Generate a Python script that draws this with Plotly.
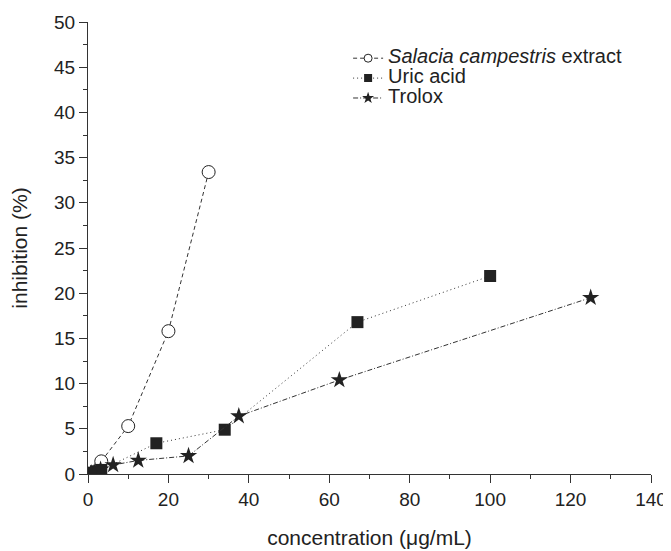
import plotly.graph_objects as go

# Data
salacia_x = [3.3, 10, 20, 30]
salacia_y = [1.4, 5.3, 15.8, 33.4]

uric_x = [0.5, 1, 2, 3.3, 17, 34, 67, 100]
uric_y = [0.05, 0.15, 0.3, 0.45, 3.4, 4.9, 16.8, 21.9]

trolox_x = [0.78, 1.56, 3.125, 6.25, 12.5, 25, 37.5, 62.5, 125]
trolox_y = [0.1, 0.2, 0.5, 1.0, 1.5, 2.0, 6.4, 10.4, 19.5]

names = ["<i>Salacia campestris</i> extract", "Uric acid", "Trolox"]

FONT = "Liberation Sans, Arial, sans-serif"
INK = "#222222"
LINE = "#333333"

series = [
    (salacia_x, salacia_y, dict(color=LINE, width=1, dash="4px,3px"),
     dict(symbol="circle", color="white", line=dict(width=1, color=INK)), 13, 8),
    (uric_x, uric_y, dict(color=LINE, width=1, dash="1px,3px"),
     dict(symbol="square", color=INK, line=dict(width=0)), 12, 8),
    (trolox_x, trolox_y, dict(color=LINE, width=1, dash="5px,2px,1px,2px"),
     dict(symbol="star", color=INK, line=dict(width=0)), 13, 9),
]

fig = go.Figure()
for (xs, ys, ln, mk, size, legsize), nm in zip(series, names):
    fig.add_trace(go.Scatter(
        x=xs, y=ys, mode="lines+markers", name=nm, showlegend=False,
        line=ln, marker=dict(size=size, **mk),
    ))
# legend entries (smaller symbols, as in the reference legend)
for (xs, ys, ln, mk, size, legsize), nm in zip(series, names):
    fig.add_trace(go.Scatter(
        x=[None], y=[None], mode="lines+markers",
        name='<span style="font-size:20px">' + nm + '</span>', showlegend=True,
        line=ln, marker=dict(size=legsize, **mk),
    ))

fig.update_layout(
    width=663, height=543,
    margin=dict(l=80, r=20, t=14, b=77),
    paper_bgcolor="white", plot_bgcolor="white",
    font=dict(family=FONT, size=18, color=INK),
    showlegend=True,
    legend=dict(x=0.462, y=0.953, xanchor="left", yanchor="top",
                bgcolor="rgba(0,0,0,0)", font=dict(size=13, family=FONT, color=INK),
                tracegroupgap=0, itemwidth=30),
    xaxis=dict(
        range=[0, 140], tickmode="linear", tick0=0, dtick=20, automargin=False,
        showgrid=False, zeroline=False, showline=True, linecolor=LINE, linewidth=1,
        ticks="outside", ticklen=8, tickcolor=LINE, tickwidth=1,
        minor=dict(ticks="outside", ticklen=4, dtick=10, tickcolor=LINE),
        tickfont=dict(size=19, family=FONT, color=INK),
        title=dict(text="concentration (μg/mL)", font=dict(size=21, family=FONT, color=INK), standoff=21),
    ),
    yaxis=dict(
        range=[0, 50], tickmode="linear", tick0=0, dtick=5, automargin=False,
        showgrid=False, zeroline=False, showline=True, linecolor=LINE, linewidth=1,
        ticks="outside", ticklen=8, tickcolor=LINE, tickwidth=1,
        minor=dict(ticks="outside", ticklen=4, dtick=2.5, tickcolor=LINE),
        tickfont=dict(size=19, family=FONT, color=INK),
        title=dict(text="inhibition (%)", font=dict(size=21, family=FONT, color=INK), standoff=22),
    ),
)

fig.write_html("out.html")
